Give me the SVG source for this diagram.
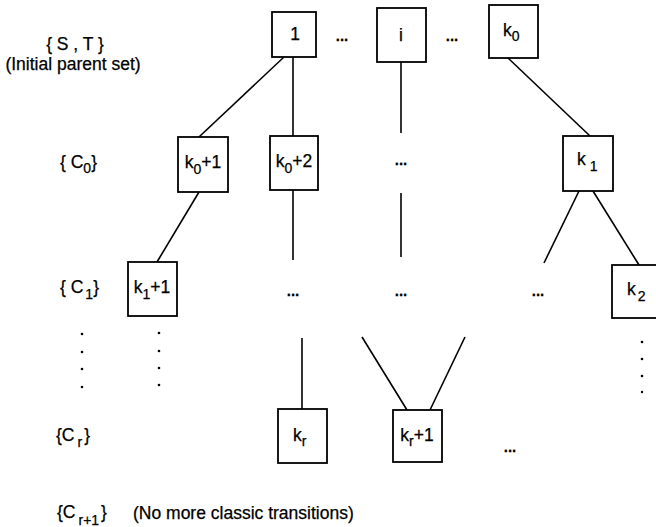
<svg xmlns="http://www.w3.org/2000/svg" width="656" height="527" viewBox="0 0 656 527">
<style>
text{font-family:"Liberation Sans",Arial,sans-serif;font-size:17.5px;fill:#000;stroke:#000;stroke-width:0.25}
.c{text-anchor:middle}
.s{font-size:14px}
.e{font-size:15px;font-weight:bold;text-anchor:middle}
.b{fill:#fff;stroke:#000;stroke-width:1.8}
.l{stroke:#000;stroke-width:1.6;fill:none}
.d{fill:#000}
</style>
<rect width="656" height="527" fill="#fff"/>
<g id="labels">
<text class="c" x="75" y="50">{ S , T }</text>
<text class="c" x="73" y="70">(Initial parent set)</text>
<text x="60" y="168">{ C<tspan class="s" dy="5">0</tspan><tspan dy="-5">}</tspan></text>
<text x="60" y="293">{ C<tspan class="s" dy="6" dx="2">1</tspan><tspan dy="-6">}</tspan></text>
<text x="56" y="441">{C<tspan class="s" dy="6" dx="3">r</tspan><tspan dy="-6" dx="2">}</tspan></text>
<text x="57" y="518">{C<tspan class="s" dy="7" dx="3">r+1</tspan><tspan dy="-7" dx="2">}</tspan></text>
<text x="133" y="519">(No more classic transitions)</text>
</g>
<g id="connectors">
<line class="l" x1="284" y1="57" x2="199" y2="137"/>
<line class="l" x1="293" y1="57" x2="293" y2="136"/>
<line class="l" x1="401" y1="62" x2="401" y2="133"/>
<line class="l" x1="401" y1="193" x2="401" y2="257"/>
<line class="l" x1="508" y1="58" x2="590" y2="136"/>
<line class="l" x1="199" y1="192" x2="157" y2="262"/>
<line class="l" x1="293" y1="190" x2="293" y2="260"/>
<line class="l" x1="579" y1="191" x2="544" y2="263"/>
<line class="l" x1="593" y1="191" x2="639" y2="265"/>
<line class="l" x1="302" y1="338" x2="302" y2="409"/>
<line class="l" x1="362" y1="337" x2="407" y2="410"/>
<line class="l" x1="465" y1="337" x2="430" y2="410"/>
</g>
<g id="ellipses">
<text class="e" x="342" y="41">...</text>
<text class="e" x="452" y="41">...</text>
<text class="e" x="401" y="165">...</text>
<text class="e" x="293" y="296">...</text>
<text class="e" x="401" y="296">...</text>
<text class="e" x="538" y="296">...</text>
<text class="e" x="510" y="452">...</text>
<circle class="d" cx="82" cy="334" r="1.3"/><circle class="d" cx="82" cy="352" r="1.3"/><circle class="d" cx="82" cy="369" r="1.3"/><circle class="d" cx="82" cy="387" r="1.3"/>
<circle class="d" cx="159" cy="333" r="1.3"/><circle class="d" cx="159" cy="351" r="1.3"/><circle class="d" cx="159" cy="368" r="1.3"/><circle class="d" cx="159" cy="385" r="1.3"/>
<circle class="d" cx="642" cy="342" r="1.3"/><circle class="d" cx="642" cy="359" r="1.3"/><circle class="d" cx="642" cy="376" r="1.3"/><circle class="d" cx="642" cy="392" r="1.2"/>
</g>
<g id="n1"><rect class="b" x="272" y="12" width="44" height="45"/><text class="c" x="295" y="40">1</text></g>
<g id="ni"><rect class="b" x="377" y="8" width="49" height="54"/><text class="c" x="401" y="41">i</text></g>
<g id="nk0"><rect class="b" x="489" y="5" width="49" height="53"/><text x="503" y="36">k<tspan class="s" dy="5">0</tspan></text></g>
<g id="nk0p1"><rect class="b" x="178" y="137" width="50" height="55"/><text class="c" x="203" y="168">k<tspan class="s" dy="6">0</tspan><tspan dy="-6">+1</tspan></text></g>
<g id="nk0p2"><rect class="b" x="270" y="136" width="48" height="54"/><text class="c" x="294" y="167">k<tspan class="s" dy="6">0</tspan><tspan dy="-6">+2</tspan></text></g>
<g id="nk1"><rect class="b" x="563" y="136" width="50" height="55"/><text x="577" y="165">k<tspan class="s" dy="6" dx="4">1</tspan></text></g>
<g id="nk1p1"><rect class="b" x="128" y="262" width="49" height="54"/><text class="c" x="152" y="293">k<tspan class="s" dy="6">1</tspan><tspan dy="-6">+1</tspan></text></g>
<g id="nk2"><rect class="b" x="612" y="265" width="52" height="53"/><text x="627" y="295">k<tspan class="s" dy="6" dx="2">2</tspan></text></g>
<g id="nkr"><rect class="b" x="278" y="409" width="49" height="54"/><text x="293" y="441">k<tspan class="s" dy="5">r</tspan></text></g>
<g id="nkrp1"><rect class="b" x="393" y="410" width="49" height="52"/><text class="c" x="417" y="441">k<tspan class="s" dy="5">r</tspan><tspan dy="-5">+1</tspan></text></g>
</svg>
